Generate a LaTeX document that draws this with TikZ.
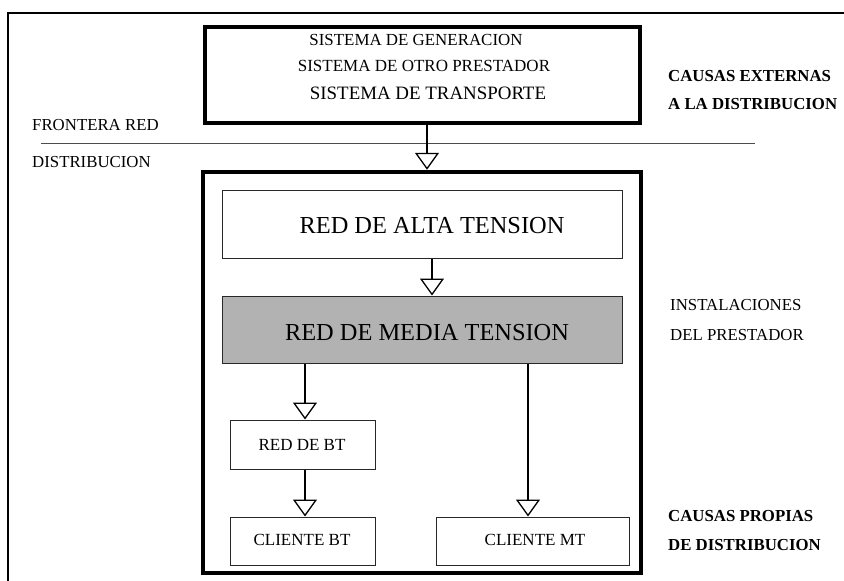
\documentclass[tikz,border=0pt]{standalone}
\usepackage{fontspec}
\setmainfont{Liberation Serif}
\usetikzlibrary{arrows.meta}
\begin{document}
\begin{tikzpicture}[x=1pt,y=-1pt,
  txt/.style={anchor=base, inner sep=0pt, font=\fontsize{17}{20}\selectfont},
  ltxt/.style={anchor=base west, inner sep=0pt, font=\fontsize{16.8}{20}\selectfont},
  btxt/.style={anchor=base west, inner sep=0pt, font=\fontsize{16.8}{20}\selectfont\bfseries},
  bigtxt/.style={anchor=base, inner sep=0pt, font=\fontsize{24.4}{28}\selectfont},
  heavybox/.style={draw=black, fill=white, inner sep=0pt},
  thinbox/.style={draw={rgb,255:red,40;green,40;blue,40}, line width=1pt, fill=white, inner sep=0pt},
  arr/.style={line width=1.3pt, -{Triangle[open, length=17pt, width=24pt]}},
]
\useasboundingbox (0,0) rectangle (844,581);
% outer frame (only top and left visible)
\draw[line width=2pt] (8,583) -- (8,13) -- (846,13);

% frontier line
\coordinate (fl1) at (41,143);
\coordinate (fl2) at (755,143);
\draw[line width=1pt, black!70] (fl1) -- (fl2);

% top box
\node[heavybox, line width=3.5pt, minimum width=435pt, minimum height=96pt] (top) at (422.5,75) {};
\node[txt, font=\fontsize{16.9}{20}\selectfont] (t1) at (416,45.6) {SISTEMA DE GENERACION};
\node[txt] (t2) at (424,71.6) {SISTEMA DE OTRO PRESTADOR};
\node[txt, font=\fontsize{18.9}{22}\selectfont] (t3) at (428,99.3) {SISTEMA DE TRANSPORTE};

% big box
\node[heavybox, line width=4.5pt, minimum width=438pt, minimum height=401pt] (big) at (422,372.5) {};

% inner boxes
\node[thinbox, minimum width=400pt, minimum height=68pt] (at) at (422,224) {};
\node[thinbox, fill={rgb,255:red,178;green,178;blue,178}, minimum width=400pt, minimum height=67pt] (mt) at (422,329.5) {};
\node[thinbox, minimum width=145pt, minimum height=49pt] (bt) at (302.5,444.5) {};
\node[thinbox, minimum width=145pt, minimum height=48pt] (cbt) at (302.5,541) {};
\node[thinbox, minimum width=193pt, minimum height=48pt] (cmt) at (532.5,541) {};

\node[bigtxt] (attxt) at (432,233) {RED DE ALTA TENSION};
\node[bigtxt] (mttxt) at (427,340) {RED DE MEDIA TENSION};
\node[txt] (bttxt) at (302,450.6) {RED DE BT};
\node[txt] (cbttxt) at (302,545.6) {CLIENTE BT};
\node[txt] (cmttxt) at (535,545.6) {CLIENTE MT};

% connectors
\coordinate (xa) at (427,0);
\coordinate (xb) at (432,0);
\coordinate (xc) at (305,0);
\coordinate (xd) at (528,0);
\draw[arr] (top.south -| xa) -- (big.north -| xa);
\draw[arr] (at.south -| xb) -- (mt.north -| xb);
\draw[arr] (mt.south -| xc) -- (bt.north -| xc);
\draw[arr] (bt.south -| xc) -- (cbt.north -| xc);
\draw[arr] (mt.south -| xd) -- (cmt.north -| xd);

% side labels
\node[ltxt] (fr) at (32,130.6) {FRONTERA RED};
\node[ltxt] (di) at (32,167.6) {DISTRIBUCION};
\node[btxt] (ce1) at (668,81.6) {CAUSAS EXTERNAS};
\node[btxt] (ce2) at (668,109.6) {A LA DISTRIBUCION};
\node[ltxt] (in1) at (670,310.6) {INSTALACIONES};
\node[ltxt] (in2) at (670,340.6) {DEL PRESTADOR};
\node[btxt] (cp1) at (668,521.6) {CAUSAS PROPIAS};
\node[btxt] (cp2) at (668,550.6) {DE DISTRIBUCION};
\end{tikzpicture}
\end{document}
